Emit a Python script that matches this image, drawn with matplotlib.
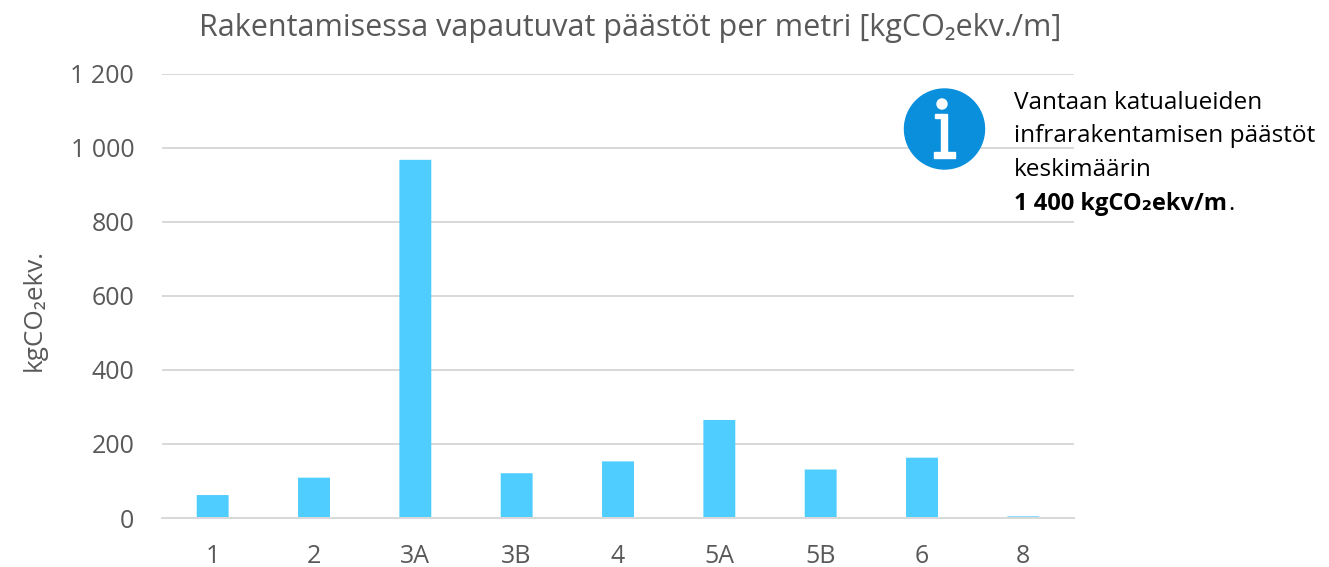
import matplotlib
matplotlib.use("Agg")
import matplotlib.pyplot as plt
from matplotlib.patches import Circle, Rectangle

categories = ["1", "2", "3A", "3B", "4", "5A", "5B", "6", "8"]
values = [62, 109, 968, 121, 153, 265, 131, 163, 4.5]
ticks = [0, 200, 400, 600, 800, 1000, 1200]
tick_labels = ["0", "200", "400", "600", "800", "1 000", "1 200"]
note_lines = ["Vantaan katualueiden", "infrarakentamisen päästöt", "keskimäärin"]
note_bold = "1 400 kgCO₂ekv/m"

W, H = 1329, 567
plt.rcParams["font.family"] = ["Open Sans", "DejaVu Sans"]
grey = "#595959"

fig = plt.figure(figsize=(W / 100, H / 100), dpi=100)
ax = fig.add_axes([162 / W, 1 - 518 / H, (1074 - 162) / W, (518 - 74) / H])
ax.bar(range(len(values)), values, width=0.315, color="#50CDFF", zorder=2, snap=False)
ax.set_xlim(-0.5, len(values) - 0.5)
ax.set_ylim(0, 1200)
ax.set_yticks(ticks)
ax.set_yticklabels(tick_labels)
ax.set_xticks(range(len(values)))
ax.set_xticklabels(categories)
ax.tick_params(length=0, labelsize=18, labelcolor=grey)
ax.tick_params(axis="x", pad=18.5)
ax.tick_params(axis="y", pad=20)
ax.grid(axis="y", color="#D9D9D9", linewidth=1.44, zorder=1)
for s in ["top", "left", "right"]:
    ax.spines[s].set_visible(False)
ax.spines["bottom"].set_color("#D9D9D9")
ax.spines["bottom"].set_linewidth(1.44)

fig.text(630 / W, 1 - 28 / H, "Rakentamisessa vapautuvat päästöt per metri [kgCO₂ekv./m]",
         fontsize=22, color=grey, ha="center", va="center")
fig.text(34 / W, 1 - 310 / H, "kgCO₂ekv.", fontsize=18.8, color=grey,
         rotation=90, ha="center", va="center")

# info icon, drawn in pixel coordinates
ov = fig.add_axes([0, 0, 1, 1], facecolor="none")
ov.set_xlim(0, W)
ov.set_ylim(H, 0)
ov.axis("off")
ov.add_patch(Circle((944.5, 129), 40, color="#0A8FDC"))
ov.add_patch(Circle((942, 104), 5, color="white"))
ov.add_patch(Rectangle((941, 114), 6, 39, color="white"))
ov.add_patch(Rectangle((935, 114), 7, 4, color="white"))
ov.add_patch(Rectangle((934, 152), 21, 6, color="white"))

for i, line in enumerate(note_lines):
    ov.text(1014, 103 + i * 33.5, line, fontsize=17.6, color="black", va="center")
bold = ov.text(1014, 203.5, note_bold, fontsize=17, color="black", va="center", fontweight="bold")
fig.canvas.draw()
end = bold.get_window_extent()
ov.text(end.x1 + 1, 203.5, ".", fontsize=17, color="black", va="center")

fig.savefig("out.png", dpi=100)
